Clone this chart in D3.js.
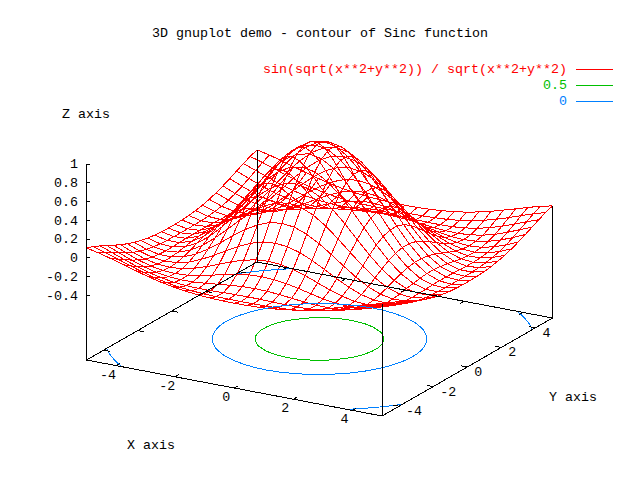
<!DOCTYPE html>
<html>
<head>
<meta charset="utf-8">
<script src="https://cdn.jsdelivr.net/npm/d3@7"></script>
<style>
  html, body { margin: 0; padding: 0; background: #fff; }
  text { font-family: "Liberation Mono", monospace; font-size: 13.33px; fill: #000; }
  path, line { shape-rendering: crispEdges; }
</style>
</head>
<body>
<svg id="chart" width="640" height="480"></svg>
<script>
const xSamples = [ -5, -4.583, -4.167, -3.75, -3.333, -2.917, -2.5, -2.083, -1.667, -1.25, -0.833, -0.417, 0,
  0.417, 0.833, 1.25, 1.667, 2.083, 2.5, 2.917, 3.333, 3.75, 4.167, 4.583, 5 ];
const ySamples = [ -5, -4.6, -4.2, -3.8, -3.4, -3, -2.6, -2.2, -1.8, -1.4, -1, -0.6, -0.2,
  0.2, 0.6, 1, 1.4, 1.8, 2.2, 2.6, 3, 3.4, 3.8, 4.2, 4.6, 5 ];

// one row per y sample, one column per x sample
const zRows = [
  [.100,.070,.034,-.006,-.045,-.082,-.114,-.141,-.161,-.175,-.185,-.190,-.192,-.190,-.185,-.175,-.161,-.141,-.114,-.082,-.045,-.006,.034,.070,.100],
  [.072,.032,-.012,-.058,-.100,-.136,-.165,-.187,-.201,-.209,-.214,-.215,-.216,-.215,-.214,-.209,-.201,-.187,-.165,-.136,-.100,-.058,-.012,.032,.072],
  [.037,-.011,-.061,-.108,-.148,-.180,-.201,-.213,-.217,-.216,-.212,-.209,-.208,-.209,-.212,-.216,-.217,-.213,-.201,-.180,-.148,-.108,-.061,-.011,.037],
  [-.001,-.054,-.106,-.152,-.187,-.208,-.217,-.215,-.204,-.189,-.175,-.165,-.161,-.165,-.175,-.189,-.204,-.215,-.217,-.208,-.187,-.152,-.106,-.054,-.001],
  [-.039,-.096,-.146,-.186,-.209,-.217,-.209,-.188,-.159,-.127,-.100,-.082,-.075,-.082,-.100,-.127,-.159,-.188,-.209,-.217,-.209,-.186,-.146,-.096,-.039],
  [-.075,-.132,-.178,-.207,-.217,-.206,-.177,-.134,-.084,-.033,.009,.037,.047,.037,.009,-.033,-.084,-.134,-.177,-.206,-.217,-.207,-.178,-.132,-.075],
  [-.107,-.161,-.200,-.217,-.209,-.177,-.124,-.057,.017,.088,.147,.185,.198,.185,.147,.088,.017,-.057,-.124,-.177,-.209,-.217,-.200,-.161,-.107],
  [-.134,-.183,-.212,-.215,-.189,-.134,-.056,.037,.135,.227,.301,.351,.368,.351,.301,.227,.135,.037,-.056,-.134,-.189,-.215,-.212,-.183,-.134],
  [-.155,-.198,-.217,-.205,-.159,-.082,.020,.138,.259,.371,.462,.520,.541,.520,.462,.371,.259,.138,.020,-.082,-.159,-.205,-.217,-.198,-.155],
  [-.171,-.208,-.216,-.189,-.126,-.029,.095,.235,.378,.508,.613,.680,.704,.680,.613,.508,.378,.235,.095,-.029,-.126,-.189,-.216,-.208,-.171],
  [-.182,-.213,-.212,-.174,-.095,.019,.161,.320,.479,.624,.740,.816,.841,.816,.740,.624,.479,.320,.161,.019,-.095,-.174,-.212,-.213,-.182],
  [-.188,-.215,-.208,-.161,-.072,.055,.210,.381,.553,.709,.833,.913,.941,.913,.833,.709,.553,.381,.210,.055,-.072,-.161,-.208,-.215,-.188],
  [-.191,-.216,-.206,-.153,-.059,.074,.236,.414,.592,.753,.882,.965,.993,.965,.882,.753,.592,.414,.236,.074,-.059,-.153,-.206,-.216,-.191],
  [-.191,-.216,-.206,-.153,-.059,.074,.236,.414,.592,.753,.882,.965,.993,.965,.882,.753,.592,.414,.236,.074,-.059,-.153,-.206,-.216,-.191],
  [-.188,-.215,-.208,-.161,-.072,.055,.210,.381,.553,.709,.833,.913,.941,.913,.833,.709,.553,.381,.210,.055,-.072,-.161,-.208,-.215,-.188],
  [-.182,-.213,-.212,-.174,-.095,.019,.161,.320,.479,.624,.740,.816,.841,.816,.740,.624,.479,.320,.161,.019,-.095,-.174,-.212,-.213,-.182],
  [-.171,-.208,-.216,-.189,-.126,-.029,.095,.235,.378,.508,.613,.680,.704,.680,.613,.508,.378,.235,.095,-.029,-.126,-.189,-.216,-.208,-.171],
  [-.155,-.198,-.217,-.205,-.159,-.082,.020,.138,.259,.371,.462,.520,.541,.520,.462,.371,.259,.138,.020,-.082,-.159,-.205,-.217,-.198,-.155],
  [-.134,-.183,-.212,-.215,-.189,-.134,-.056,.037,.135,.227,.301,.351,.368,.351,.301,.227,.135,.037,-.056,-.134,-.189,-.215,-.212,-.183,-.134],
  [-.107,-.161,-.200,-.217,-.209,-.177,-.124,-.057,.017,.088,.147,.185,.198,.185,.147,.088,.017,-.057,-.124,-.177,-.209,-.217,-.200,-.161,-.107],
  [-.075,-.132,-.178,-.207,-.217,-.206,-.177,-.134,-.084,-.033,.009,.037,.047,.037,.009,-.033,-.084,-.134,-.177,-.206,-.217,-.207,-.178,-.132,-.075],
  [-.039,-.096,-.146,-.186,-.209,-.217,-.209,-.188,-.159,-.127,-.100,-.082,-.075,-.082,-.100,-.127,-.159,-.188,-.209,-.217,-.209,-.186,-.146,-.096,-.039],
  [-.001,-.054,-.106,-.152,-.187,-.208,-.217,-.215,-.204,-.189,-.175,-.165,-.161,-.165,-.175,-.189,-.204,-.215,-.217,-.208,-.187,-.152,-.106,-.054,-.001],
  [.037,-.011,-.061,-.108,-.148,-.180,-.201,-.213,-.217,-.216,-.212,-.209,-.208,-.209,-.212,-.216,-.217,-.213,-.201,-.180,-.148,-.108,-.061,-.011,.037],
  [.072,.032,-.012,-.058,-.100,-.136,-.165,-.187,-.201,-.209,-.214,-.215,-.216,-.215,-.214,-.209,-.201,-.187,-.165,-.136,-.100,-.058,-.012,.032,.072],
  [.100,.070,.034,-.006,-.045,-.082,-.114,-.141,-.161,-.175,-.185,-.190,-.192,-.190,-.185,-.175,-.161,-.141,-.114,-.082,-.045,-.006,.034,.070,.100],
];

const contourLevels = [ 0.5, 0 ];
const xTicks = [ -4, -2, 0, 2, 4 ];
const yTicks = [ -4, -2, 0, 2, 4 ];
const zTicks = [ 1, 0.8, 0.6, 0.4, 0.2, 0, -0.2, -0.4 ];
const zBase = -1.096;

const RED = "#ff0000";
const GREEN = "#00c000";
const BLUE = "#0080ff";
const levelColor = { 0.5: GREEN, 0: BLUE };

const svg = d3.select( "#chart" );

// oblique projection: each data axis moves the pen along its own screen vector
const ORIGIN = { x: 86.5, y: 360 };
const xToH = d3.scaleLinear().domain( [ -5, 5 ] ).range( [ 0, 295.5 ] );
const xToV = d3.scaleLinear().domain( [ -5, 5 ] ).range( [ 0, 56 ] );
const yToH = d3.scaleLinear().domain( [ -5, 5 ] ).range( [ 0, 170.5 ] );
const yToV = d3.scaleLinear().domain( [ -5, 5 ] ).range( [ 0, -98 ] );
const zScale = d3.scaleLinear().domain( [ zBase, 1 ] ).range( [ ORIGIN.y, 163.5 ] );

const project = ( x, y, z = zBase ) => [
  ORIGIN.x + xToH( x ) + yToH( y ),
  zScale( z ) + xToV( x ) + yToV( y ),
];

const line = d3.line();
const addPath = ( g, points, color ) => g.append( "path" )
  .attr( "d", line( points ) )
  .attr( "fill", "none" )
  .attr( "stroke", color )
  .attr( "stroke-width", 1 );

const surface = svg.append( "g" ).attr( "class", "surface" );
zRows.forEach( ( row, j ) => {
  addPath( surface, row.map( ( z, i ) => project( xSamples[i], ySamples[j], z ) ), RED );
} );
xSamples.forEach( ( x, i ) => {
  addPath( surface, zRows.map( ( row, j ) => project( x, ySamples[j], row[i] ) ), RED );
} );

// contours on the base, cut open where a ring runs along the edge of the grid
const nx = xSamples.length;
const ny = ySamples.length;
const gridX = d3.scaleLinear().domain( [ 0.5, nx - 0.5 ] ).range( [ -5, 5 ] );
const gridY = d3.scaleLinear().domain( [ 0.5, ny - 0.5 ] ).range( [ -5, 5 ] );
const inside = p => p[0] >= 0.5 && p[0] <= nx - 0.5 && p[1] >= 0.5 && p[1] <= ny - 0.5;

const contourGroup = svg.append( "g" ).attr( "class", "contours" );
const contours = d3.contours().size( [ nx, ny ] ).thresholds( contourLevels )( zRows.flat() );
contours.forEach( c => {
  c.coordinates.forEach( polygon => polygon.forEach( ring => {
    const start = ring.findIndex( p => !inside( p ) );
    const ordered = start < 0 ? ring : ring.slice( start ).concat( ring.slice( 0, start ) );
    let piece = [];
    const flush = () => {
      if ( piece.length > 1 )
        addPath( contourGroup, piece.map( p => project( gridX( p[0] ), gridY( p[1] ) ) ), levelColor[c.value] );
      piece = [];
    };
    ordered.forEach( p => {
      if ( inside( p ) ) piece.push( p );
      else flush();
    } );
    flush();
  } ) );
} );

// base rectangle and corner posts
const frame = svg.append( "g" ).attr( "class", "frame" );
addPath( frame, [ project( -5, -5 ), project( 5, -5 ), project( 5, 5 ), project( -5, 5 ), project( -5, -5 ) ], "#000" );
addPath( frame, [ project( 5, -5 ), project( 5, -5, zRows[0][nx - 1] ) ], "#000" );
addPath( frame, [ project( 5, 5 ), project( 5, 5, zRows[ny - 1][nx - 1] ) ], "#000" );
addPath( frame, [ project( -5, 5 ), project( -5, 5, zRows[ny - 1][0] ) ], "#000" );

const TICK = 0.22;
xTicks.forEach( x => {
  addPath( frame, [ project( x, -5 ), project( x, -5 + TICK ) ], "#000" );
  addPath( frame, [ project( x, 5 ), project( x, 5 - TICK ) ], "#000" );
  const p = project( x, -5 );
  frame.append( "text" ).attr( "x", p[0] - 8 ).attr( "y", p[1] + 13 )
    .attr( "text-anchor", "middle" ).text( x );
} );
yTicks.forEach( y => {
  addPath( frame, [ project( 5, y ), project( 5 - TICK, y ) ], "#000" );
  addPath( frame, [ project( -5, y ), project( -5 + TICK, y ) ], "#000" );
  const p = project( 5, y );
  frame.append( "text" ).attr( "x", p[0] + 7 ).attr( "y", p[1] + 9 ).text( y );
} );

const zAxis = d3.axisLeft( zScale )
  .tickValues( zTicks )
  .tickSize( -4 )
  .tickPadding( 8 )
  .tickFormat( d => d );
svg.append( "g" )
  .attr( "class", "z axis" )
  .attr( "transform", `translate(${Math.floor( ORIGIN.x )},0)` )
  .call( zAxis )
  .call( g => g.select( ".domain" ).attr( "d", `M0.5,${ORIGIN.y}V${zScale( 1 )}` ) )
  .call( g => g.selectAll( "text" ).style( "font-family", "Liberation Mono" ).style( "font-size", "13.33px" ).attr( "fill", "#000" ) );

// title, axis labels, key
const label = ( x, y, text, anchor, color ) => svg.append( "text" )
  .attr( "x", x ).attr( "y", y )
  .attr( "text-anchor", anchor )
  .style( "fill", color || "#000" )
  .text( text );

label( 320, 37, "3D gnuplot demo - contour of Sinc function", "middle" );
label( 62, 118, "Z axis", "start" );
label( 127, 449, "X axis", "start" );
label( 549, 401, "Y axis", "start" );

const keyNames = [ "sin(sqrt(x**2+y**2)) / sqrt(x**2+y**2)", "0.5", "0" ];
const keyColors = [ RED, GREEN, BLUE ];
keyNames.forEach( ( name, i ) => {
  const y = 69 + i * 16;
  label( 567, y + 4, name, "end", keyColors[i] );
  addPath( svg, [ [ 576, y + 0.5 ], [ 613, y + 0.5 ] ], keyColors[i] );
} );
</script>
</body>
</html>
